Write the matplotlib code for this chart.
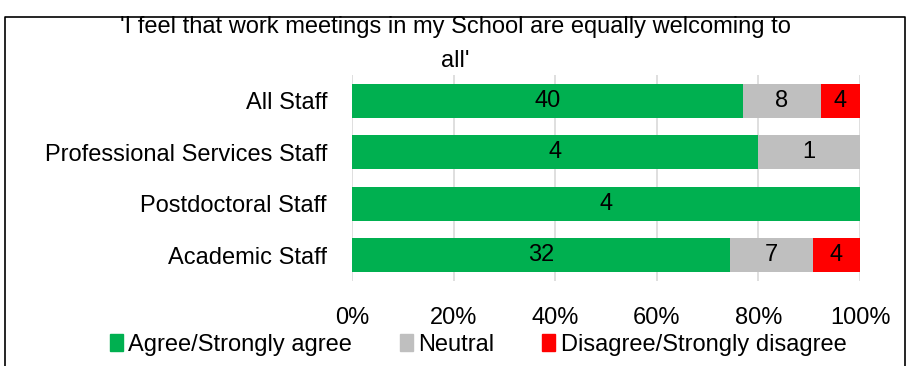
import matplotlib
matplotlib.use("Agg")
import matplotlib.pyplot as plt
from matplotlib.lines import Line2D
import numpy as np

# Counts per response category (bottom to top on chart)
groups = ["Academic Staff", "Postdoctoral Staff", "Professional Services Staff", "All Staff"]
agree = [32, 4, 4, 40]
neutral = [7, 0, 1, 8]
disagree = [4, 0, 0, 4]
series_names = ["Agree/Strongly agree", "Neutral", "Disagree/Strongly disagree"]
series_colors = ["#00B050", "#BFBFBF", "#FF0000"]
title = "'I feel that work meetings in my School are equally welcoming to\nall'"

plt.rcParams["font.family"] = ["Liberation Sans", "DejaVu Sans"]
FS = 17

W, H = 910, 366
fig = plt.figure(figsize=(W / 100, H / 100), dpi=100)
ax = fig.add_axes([352 / W, 1 - 281 / H, 508 / W, 206 / H])

counts = np.array([agree, neutral, disagree], dtype=float)
totals = counts.sum(axis=0)
shares = counts / totals
y = np.arange(len(groups))
left = np.zeros(len(groups))
for name, col, cnt, sh in zip(series_names, series_colors, counts, shares):
    ax.barh(y, sh, left=left, height=0.66, color=col, label=name, zorder=2)
    for yi, c, s, l in zip(y, cnt, sh, left):
        if c > 0:
            ax.text(l + s / 2, yi, f"{int(c)}", ha="center", va="center",
                    fontsize=FS, color="black", zorder=3)
    left = left + sh

ax.set_xlim(0, 1)
ax.set_ylim(-0.5, len(groups) - 0.5)
ax.set_xticks(np.linspace(0, 1, 6))
ax.set_xticklabels([f"{int(v)}%" for v in np.linspace(0, 100, 6)], fontsize=FS)
ax.set_yticks(y)
ax.set_yticklabels(groups, fontsize=FS)
ax.tick_params(axis="x", length=0, pad=19)
ax.tick_params(axis="y", length=0, pad=18)
ax.grid(axis="x", color="#D9D9D9", linewidth=1.2, zorder=0)
for s in ax.spines.values():
    s.set_visible(False)

fig.text(0.5, 1 - 44 / H, title, ha="center", va="center", fontsize=FS,
         linespacing=1.65)

handles = [plt.Rectangle((0, 0), 1, 1, color=c) for c in series_colors]
fig.legend(handles, series_names, loc="center", bbox_to_anchor=(478 / W, 1 - 345 / H),
           ncol=3, frameon=False, fontsize=FS, handlelength=0.55, handleheight=0.7,
           handletextpad=0.25, columnspacing=2.0)

# outer chart border (bottom edge cropped off)
fig.add_artist(Line2D([5 / W, 5 / W, 905 / W, 905 / W], [0, 1 - 17 / H, 1 - 17 / H, 0],
                      transform=fig.transFigure, color="black", linewidth=1.2))

fig.savefig("out.png", dpi=100)
